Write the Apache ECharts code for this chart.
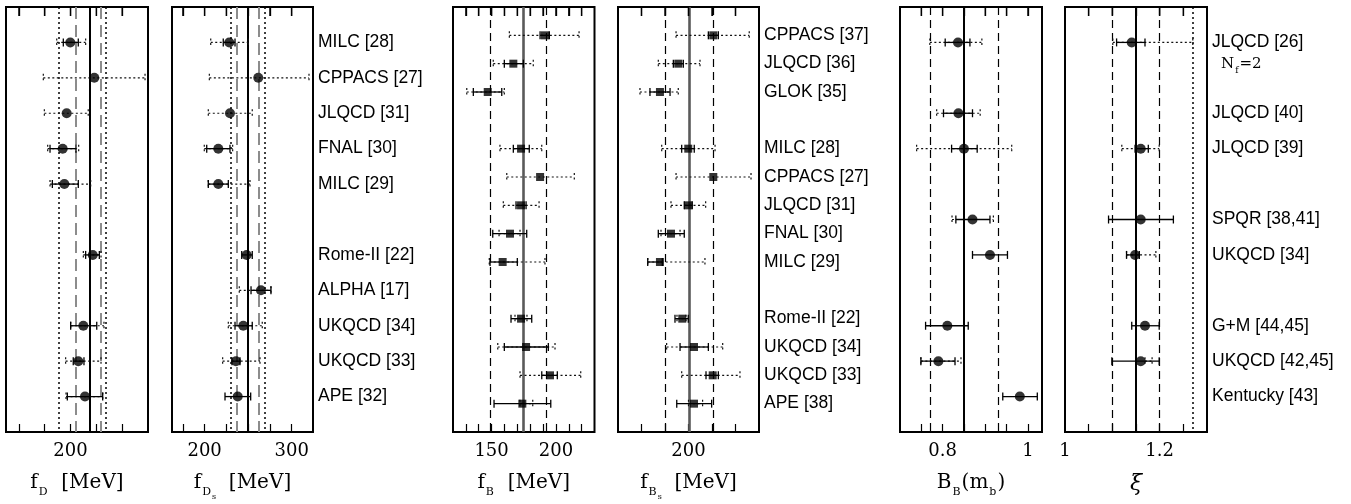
<!DOCTYPE html>
<html><head><meta charset="utf-8">
<script src="https://cdn.jsdelivr.net/npm/echarts@6/dist/echarts.min.js"></script>
<style>html,body{margin:0;padding:0;background:#fff}#c{width:1351px;height:504px}</style>
</head><body><div id="c"></div>
<script>
// ---------- row labels ----------
const labelsA = ['MILC [28]','CPPACS [27]','JLQCD [31]','FNAL [30]','MILC [29]','','Rome-II [22]','ALPHA [17]','UKQCD [34]','UKQCD [33]','APE [32]'];
const labelsB = ['CPPACS [37]','JLQCD [36]','GLOK [35]','','MILC [28]','CPPACS [27]','JLQCD [31]','FNAL [30]','MILC [29]','','Rome-II [22]','UKQCD [34]','UKQCD [33]','APE [38]'];
const labelsC = ['JLQCD [26]','','JLQCD [40]','JLQCD [39]','','SPQR [38,41]','UKQCD [34]','','G+M [44,45]','UKQCD [42,45]','Kentucky [43]'];

// ---------- f_D ----------
const fD_val  = [199.8, 218.4, 197.0, 193.9, 195.2, null, 217.2, null, 209.9, 206.0, 211.2];
const fD_stat = [[194.4,206.0], null, null, [184.1,204.2], [185.9,206.0], null, [211.7,222.3], null, [200.1,220.3], [202.1,210.4], [197.5,224.9]];
const fD_sys  = [[189.3,211.7], [178.9,257.7], [179.7,213.7], [182.3,206.3], [184.1,215.6], null, [209.9,223.6], null, [200.1,225.9], [196.2,223.6], [196.5,224.9]];
const fD_dotted = [191.1, 226.9], fD_dashed = [204.2, 223.6], fD_center = [214.5];
const fD_ticks = [160,180,200,220,240], fD_tickLabels = [200];

// ---------- f_Ds ----------
const fDs_val  = [228.3, 261.6, 229.1, 215.7, 215.7, null, 248.3, 264.7, 244.4, 236.0, 238.0];
const fDs_stat = [[221.4,234.9], null, null, [202.4,229.1], [204.2,227.2], null, [242.6,254.7], [253.3,276.2], [234.9,254.7], [231.4,240.6], [223.4,252.9]];
const fDs_sys  = [[207.0,250.2], [205.4,319.9], [204.2,254.7], [199.6,232.2], [204.2,252.1], null, null, [239.8,276.2], [227.2,266.2], [220.7,263.6], null];
const fDs_dotted = [229.9, 268.5], fDs_dashed = [236.8, 262.4], fDs_center = [249.0];
const fDs_ticks = [175,200,225,250,275,300], fDs_tickLabels = [200,300];

// ---------- f_B ----------
const fB_val  = [191.5, 166.9, 147.0, null, 172.9, 187.7, 172.9, 164.3, 158.6, null, 172.9, 176.8, 195.4, 173.9];
const fB_stat = [[187.7,194.9],[159.9,174.7],[135.8,157.9],null,[166.9,179.3],null,[169.0,176.8],[150.9,177.3],[148.8,170.0],null,[165.1,181.2],[159.9,194.1],[189.0,201.1],[151.9,196.0]];
const fB_sys  = [[163.8,218.0],[151.3,182.4],[130.7,159.9],null,[156.5,189.0],[161.8,214.3],[159.1,186.9],[155.8,172.1],[148.2,191.5],null,[168.2,177.5],[154.8,199.3],[172.1,219.3],[172.0,182.0]];
const fB_dashed = [149.0, 192.5], fB_center = [174.3];
const fB_ticks = [130,140,150,160,170,180,190,200,210,220], fB_tickLabels = [150,200];

// ---------- f_Bs ----------
const fBs_val  = [221.1, 191.3, 175.7, null, 199.8, 221.1, 199.8, 185.1, 175.7, null, 194.7, 204.7, 220.6, 204.7];
const fBs_stat = [[216.9,225.4],[187.1,195.6],[167.2,184.3],null,[194.2,204.9],null,[196.4,203.2],[174.3,196.4],[165.3,177.7],null,[188.5,199.8],[192.8,216.9],[214.9,225.4],[190.0,219.7]];
const fBs_sys  = [[189.4,251.7],[174.3,209.8],[158.7,191.3],null,[177.2,222.6],[189.4,253.2],[185.1,214.6],[176.6,192.8],[165.3,214.0],null,[190.2,197.9],[181.4,229.1],[194.2,243.8],[200.0,212.0]];
const fBs_dashed = [180.5, 221.0], fBs_center = [200.5];
const fBs_ticks = [160,180,200,220,240], fBs_tickLabels = [200];

// ---------- B_B(m_b) ----------
const BB_val  = [0.836, null, 0.837, 0.850, null, 0.870, 0.911, null, 0.811, 0.790, 0.981];
const BB_stat = [[0.806,0.864],null,[0.802,0.870],[0.821,0.881],null,[0.831,0.911],[0.870,0.952],null,[0.760,0.860],[0.749,0.829],[0.941,1.022]];
const BB_sys  = [[0.770,0.892],null,[0.786,0.888],[0.739,0.962],null,[0.822,0.919],null,null,null,[0.749,0.843],null];
const BB_dashed = [0.770, 0.931], BB_center = [0.850];
const BB_ticks = [0.75,0.8,0.85,0.9,0.95,1.0], BB_tickLabels = [0.8,1];

// ---------- xi ----------
const xi_val  = [1.141, null, null, 1.160, null, 1.160, 1.148, null, 1.169, 1.160, null];
const xi_stat = [[1.109,1.169],null,null,[1.148,1.176],null,[1.092,1.229],[1.130,1.157],null,[1.141,1.199],[1.099,1.199],null];
const xi_sys  = [[1.101,1.270],null,null,[1.120,1.199],null,null,[1.130,1.192],null,null,[1.169,1.184],null];
const xi_dashed = [1.099, 1.199], xi_center = [1.150], xi_dotted = [1.270];
const xi_ticks = [1.05,1.1,1.15,1.2,1.25], xi_tickLabels = [1,1.2];

// ---------- layout ----------
const TOP = 7, H = 425, TICK_PX = 9;
const panels = [
  {left:6,   width:142, min:150, max:260,   ticks:fD_ticks,  tl:fD_tickLabels,  val:fD_val,  stat:fD_stat,  sys:fD_sys,
   lines:{dotted:fD_dotted, dashedGray:fD_dashed, center:fD_center}, sym:'circle', rows:11, names:null,
   title:'{a|f}{b|D}{a|  [MeV]}'},
  {left:172, width:141, min:162.5, max:324.5, ticks:fDs_ticks, tl:fDs_tickLabels, val:fDs_val, stat:fDs_stat, sys:fDs_sys,
   lines:{dotted:fDs_dotted, dashedGray:fDs_dashed, center:fDs_center}, sym:'circle', rows:11, names:labelsA,
   title:'{a|f}{b|D}{c|s}{a|  [MeV]}'},
  {left:453, width:141.5, min:120, max:230, ticks:fB_ticks, tl:fB_tickLabels, val:fB_val, stat:fB_stat, sys:fB_sys,
   lines:{dashed:fB_dashed, centerGray:fB_center}, sym:'rect', rows:14, names:null,
   title:'{a|f}{b|B}{a|  [MeV]}'},
  {left:618, width:141, min:140, max:260, ticks:fBs_ticks, tl:fBs_tickLabels, val:fBs_val, stat:fBs_stat, sys:fBs_sys,
   lines:{dashed:fBs_dashed, centerGray:fBs_center}, sym:'rect', rows:14, names:labelsB,
   title:'{a|f}{b|B}{c|s}{a|  [MeV]}'},
  {left:900, width:142, min:0.7, max:1.033, ticks:BB_ticks, tl:BB_tickLabels, val:BB_val, stat:BB_stat, sys:BB_sys,
   lines:{dashed:BB_dashed, center:BB_center}, sym:'circle', rows:11, names:null,
   title:'{a|B}{b|B}{a|(m}{b|b}{a|)}'},
  {left:1065, width:142, min:1.0, max:1.3, ticks:xi_ticks, tl:xi_tickLabels, val:xi_val, stat:xi_stat, sys:xi_sys,
   lines:{dashed:xi_dashed, center:xi_center, dotted:xi_dotted}, sym:'circle', rows:11, names:labelsC,
   title:'{x|ξ}'}
];

const lineStyles = {
  dotted:     {color:'#000', width:1.5, type:[2,3]},
  dashedGray: {color:'#8c8c8c', width:2, type:[12,6]},
  center:     {color:'#000', width:2, type:'solid'},
  dashed:     {color:'#000', width:1.2, type:[8,5]},
  centerGray: {color:'#5a5a5a', width:2.6, type:'solid'}
};
const tickStyle = {color:'#000', width:1.3, type:'solid'};

const rich = {
  a:{fontFamily:'DejaVu Serif', fontSize:20, color:'#000', verticalAlign:'top'},
  b:{fontFamily:'DejaVu Serif', fontSize:11, color:'#000', verticalAlign:'top', padding:[14,1,0,1]},
  c:{fontFamily:'DejaVu Serif', fontSize:8, color:'#000', verticalAlign:'top', padding:[20,0,0,0]},
  x:{fontFamily:'DejaVu Serif', fontSize:22, fontStyle:'italic', color:'#000', verticalAlign:'top'}
};

function errRender(dotted){
  return function(params, api){
    const a = api.coord([api.value(0), api.value(2)]);
    const b = api.coord([api.value(1), api.value(2)]);
    const h = 4;
    const style = dotted ? {stroke:'#111', lineWidth:1.2, lineDash:[2,2.5], fill:null}
                         : {stroke:'#000', lineWidth:1.3, fill:null};
    return {type:'group', children:[
      {type:'line', shape:{x1:a[0], y1:a[1], x2:b[0], y2:b[1]}, style:style},
      {type:'line', shape:{x1:a[0], y1:a[1]-h, x2:a[0], y2:a[1]+h}, style:style},
      {type:'line', shape:{x1:b[0], y1:b[1]-h, x2:b[0], y2:b[1]+h}, style:style}
    ]};
  };
}
// mirrored tick marks along the top edge of the frame
function topTickRender(params, api){
  const x = api.coord([api.value(0), 0])[0];
  const top = params.coordSys.y;
  return {type:'line', z2:100, shape:{x1:x, y1:top, x2:x, y2:top + TICK_PX},
          style:{stroke:'#000', lineWidth:1.3}};
}

const grid = [], xAxis = [], yAxis = [], series = [];
panels.forEach((p, i) => {
  grid.push({left:p.left, top:TOP, width:p.width, height:H, show:true, borderColor:'#000', borderWidth:2,
    backgroundColor:'transparent', outerBoundsMode:'none', containLabel:false});
  xAxis.push({gridIndex:i, type:'value', min:p.min, max:p.max, position:'bottom',
    axisLine:{show:false, onZero:false}, splitLine:{show:false},
    axisTick:{show:true, inside:true, length:8, customValues:p.ticks.slice(), lineStyle:{color:'#000', width:1.2}},
    axisLabel:{show:true, customValues:p.tl, margin:10, fontFamily:'DejaVu Serif', fontSize:18, color:'#000',
      formatter: v => String(+v.toFixed(3))},
    name:p.title, nameLocation:'middle', nameGap:41,
    nameTextStyle:{rich:rich}});
  const yl = {show:false};
  if (p.names){
    const cv = [];
    p.names.forEach((n, k) => { if (n) cv.push(k); });
    Object.assign(yl, {show:true, customValues:cv, margin:5, fontFamily:'Liberation Sans', fontSize:17.5, color:'#000',
      align:'left', formatter: v => p.names[Math.round(v)]});
  }
  yAxis.push({gridIndex:i, type:'value', inverse:true, min:-1, max:p.rows, position:'right',
    axisLine:{show:false, onZero:false}, axisTick:{show:false}, splitLine:{show:false}, axisLabel:yl});

  const toBars = arr => arr.map((e, k) => e ? [e[0], e[1], k] : null).filter(Boolean);
  series.push({type:'custom', xAxisIndex:i, yAxisIndex:i, renderItem:errRender(true),
    data:toBars(p.sys), encode:{x:[0,1], y:2}, silent:true, z:2});
  series.push({type:'custom', xAxisIndex:i, yAxisIndex:i, renderItem:errRender(false),
    data:toBars(p.stat), encode:{x:[0,1], y:2}, silent:true, z:3});
  series.push({type:'custom', xAxisIndex:i, yAxisIndex:i, renderItem:topTickRender, clip:false,
    data:p.ticks.map(t => [t, 0]), encode:{x:0, y:1}, silent:true, z:20});

  // reference lines, plus short segments marking the top-edge ticks
  const rowPx = H / (p.rows + 1);
  const ml = [];
  Object.keys(p.lines).forEach(k => p.lines[k].forEach(v => ml.push({xAxis:v, lineStyle:lineStyles[k]})));
  p.ticks.forEach(t => ml.push([{coord:[t, -1], lineStyle:tickStyle}, {coord:[t, -1 + TICK_PX / rowPx]}]));
  series.push({type:'scatter', xAxisIndex:i, yAxisIndex:i,
    symbol:p.sym, symbolSize:p.sym === 'rect' ? 8 : 10,
    itemStyle:{color:'#000'},
    data:p.val.map((v, k) => v == null ? null : [v, k]).filter(Boolean),
    markLine:{silent:true, symbol:['none','none'], label:{show:false}, animation:false, data:ml, z:1},
    z:4});
});

const chart = echarts.init(document.getElementById('c'), null, {renderer:'canvas'});
chart.setOption({animation:false, backgroundColor:'#fff', grid, xAxis, yAxis, series,
  graphic:[{type:'text', left:1221, top:57, z:10, style:{
    text:'{n|N}{f|f}{n|=2}',
    rich:{
      n:{fontFamily:'DejaVu Serif', fontSize:15, fill:'#000', verticalAlign:'top'},
      f:{fontFamily:'DejaVu Serif', fontSize:9, fill:'#000', verticalAlign:'top', padding:[9,1,0,1]}
    }}}]
});
</script></body></html>
